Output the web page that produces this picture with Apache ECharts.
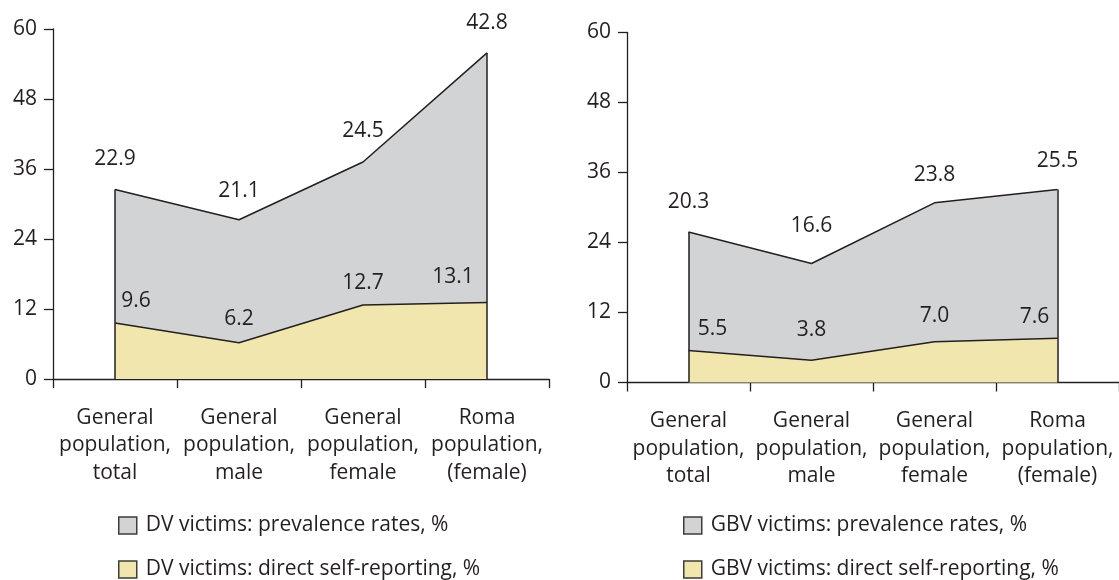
<!DOCTYPE html>
<html>
<head>
<meta charset="utf-8">
<script src="https://cdn.jsdelivr.net/npm/echarts@6/dist/echarts.min.js"></script>
<style>
  html, body { margin: 0; padding: 0; background: #ffffff; }
  #chart { width: 1119px; height: 580px; }
</style>
</head>
<body>
<div id="chart"></div>
<script>
// Categories shared by both panels
const categories = [
  'General\npopulation,\ntotal',
  'General\npopulation,\nmale',
  'General\npopulation,\nfemale',
  'Roma\npopulation,\n(female)'
];

// Domestic violence (left panel), %
const dvDirect = [9.6, 6.2, 12.7, 13.1];
const dvPrevalence = [22.9, 21.1, 24.5, 42.8];

// Gender-based violence (right panel), %
const gbvDirect = [5.5, 3.8, 7.0, 7.6];
const gbvPrevalence = [20.3, 16.6, 23.8, 25.5];

// Value axis ticks
const yMin = 0;
const yMax = 60;
const yStep = 12;

// Series names
const dvNames = ['DV victims: prevalence rates, %', 'DV victims: direct self-reporting, %'];
const gbvNames = ['GBV victims: prevalence rates, %', 'GBV victims: direct self-reporting, %'];

// Label nudges (px) so value labels sit clear of the outlines
const dvDirectNudge = [[21, -22], [0, -24], [0, -22], [-34, -26]];
const dvPrevNudge = [[0, -30], [0, -29], [0, -31], [0, -30]];
const gbvDirectNudge = [[24, -21], [0, -30], [0, -26], [-23, -21]];
const gbvPrevNudge = [[0, -30], [0, -37], [0, -28], [0, -28]];

const INK = '#231f20';
const GREY = '#d1d3d4';
const CREAM = '#f1e6ad';
const FONT = 'Open Sans';
const FS = 21;

function withLabels(values, nudges) {
  return values.map((v, i) => ({ value: v, label: { offset: nudges[i] } }));
}

function edgeLines(direct, prev) {
  const last = categories.length - 1;
  return [
    [{ coord: [0, 0] }, { coord: [0, direct[0] + prev[0]] }],
    [{ coord: [last, 0] }, { coord: [last, direct[last] + prev[last]] }]
  ];
}

function makeSeries(idx, names, direct, prev, dNudge, pNudge) {
  const label = {
    show: true,
    position: 'inside',
    color: INK,
    fontFamily: FONT,
    fontSize: FS,
    formatter: p => Number(p.value).toFixed(1)
  };
  return [
    {
      name: names[1],
      type: 'line',
      xAxisIndex: idx, yAxisIndex: idx,
      stack: 'total' + idx,
      symbol: 'circle', symbolSize: 0,
      itemStyle: { color: CREAM },
      lineStyle: { color: INK, width: 1.5 },
      areaStyle: { color: CREAM, opacity: 1 },
      label: label,
      data: withLabels(direct, dNudge),
      z: 3
    },
    {
      name: names[0],
      type: 'line',
      xAxisIndex: idx, yAxisIndex: idx,
      stack: 'total' + idx,
      symbol: 'circle', symbolSize: 0,
      itemStyle: { color: GREY },
      lineStyle: { color: INK, width: 1.5 },
      areaStyle: { color: GREY, opacity: 1 },
      label: label,
      data: withLabels(prev, pNudge),
      markLine: {
        silent: true,
        symbol: 'none',
        label: { show: false },
        lineStyle: { color: INK, width: 1.5, type: 'solid' },
        data: edgeLines(direct, prev)
      },
      z: 2
    }
  ];
}

function xAxis(idx) {
  return {
    type: 'category',
    gridIndex: idx,
    data: categories,
    boundaryGap: true,
    axisLine: { lineStyle: { color: INK, width: 1.3 } },
    axisTick: { show: true, length: 9, lineStyle: { color: INK, width: 1.3 } },
    axisLabel: {
      color: INK, fontFamily: FONT, fontSize: FS, lineHeight: 27.5,
      margin: 25, interval: 0
    }
  };
}

function yAxis(idx) {
  return {
    type: 'value',
    gridIndex: idx,
    min: yMin, max: yMax, interval: yStep,
    splitLine: { show: false },
    axisLine: { show: true, lineStyle: { color: INK, width: 1.3 } },
    axisTick: { show: true, length: 9, lineStyle: { color: INK, width: 1.3 } },
    axisLabel: { color: INK, fontFamily: FONT, fontSize: FS, margin: 16 }
  };
}

function legend(left, names) {
  return {
    orient: 'vertical',
    left: left,
    top: 515,
    height: 70,
    padding: 0,
    icon: 'rect',
    itemWidth: 18,
    itemHeight: 17,
    itemGap: 23,
    selectedMode: false,
    itemStyle: { borderColor: '#3c3c3c', borderWidth: 1.5 },
    textStyle: { color: INK, fontFamily: FONT, fontSize: FS, lineHeight: 20, padding: [0, 0, 0, 4] },
    data: [
      { name: names[0], itemStyle: { color: GREY } },
      { name: names[1], itemStyle: { color: CREAM } }
    ]
  };
}

const chart = echarts.init(document.getElementById('chart'), null, { renderer: 'canvas' });
chart.setOption({
  animation: false,
  backgroundColor: '#ffffff',
  textStyle: { fontFamily: FONT },
  grid: [
    { left: 53, top: 29, width: 496, height: 350 },
    { left: 627, top: 32.5, width: 496, height: 350 }
  ],
  xAxis: [xAxis(0), xAxis(1)],
  yAxis: [yAxis(0), yAxis(1)],
  legend: [legend(118, dvNames), legend(683, gbvNames)],
  series: [
    ...makeSeries(0, dvNames, dvDirect, dvPrevalence, dvDirectNudge, dvPrevNudge),
    ...makeSeries(1, gbvNames, gbvDirect, gbvPrevalence, gbvDirectNudge, gbvPrevNudge)
  ]
});
</script>
</body>
</html>
